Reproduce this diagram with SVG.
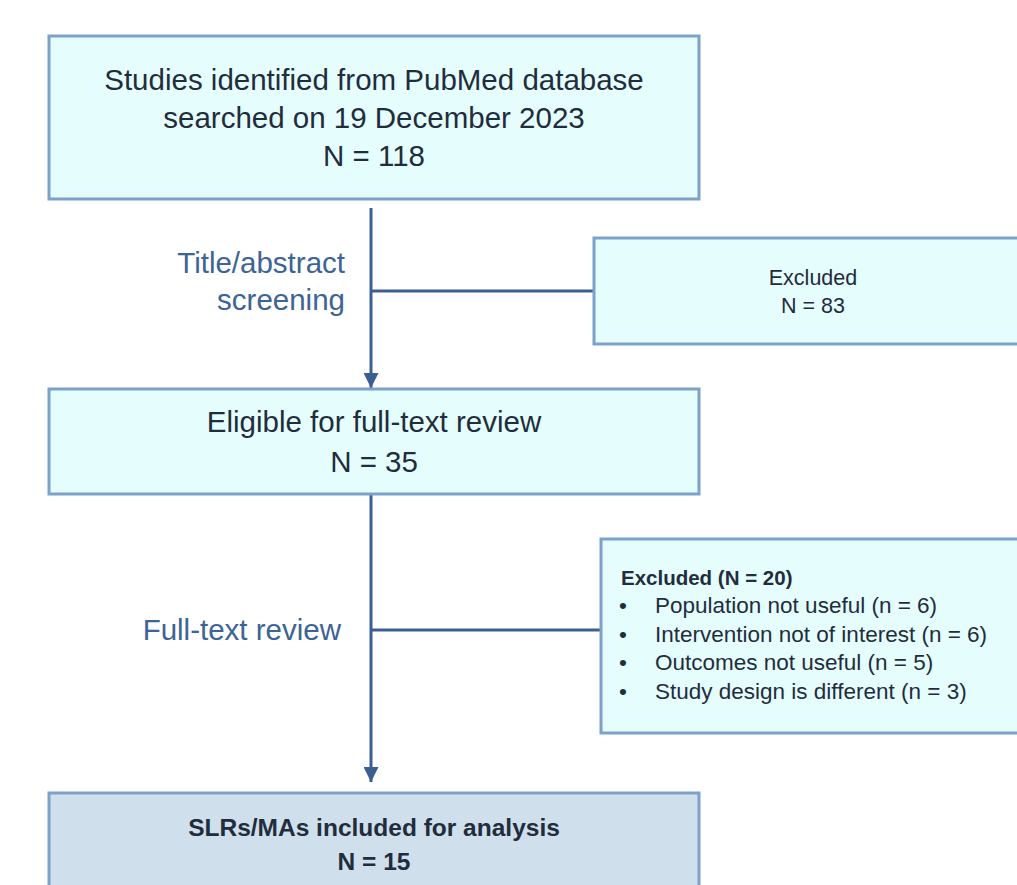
<svg xmlns="http://www.w3.org/2000/svg" width="1017" height="885" viewBox="0 0 1017 885">
<style>
.box{fill:#e6fdfd;stroke:#7ca1ca;stroke-width:3}
.final{fill:#d0dfec;stroke:#7ca1ca;stroke-width:3}
.t{font-family:"Liberation Sans",Arial,sans-serif;fill:#1f2d3d}
.big{font-size:29.5px}
.sm{font-size:22.5px}
.lab{font-family:"Liberation Sans",Arial,sans-serif;font-size:29.5px;fill:#3c6494}
.c{stroke:#3a6090;stroke-width:3;fill:none}
</style>
<defs>
<marker id="arr" viewBox="0 0 10 10" refX="10" refY="5" markerWidth="15" markerHeight="15" markerUnits="userSpaceOnUse" orient="auto">
<path d="M0,0 L10,5 L0,10 z" fill="#3a6090"/>
</marker>
</defs>
<rect width="1017" height="885" fill="#ffffff"/>
<g id="connectors">
<line class="c" x1="371" y1="208" x2="371" y2="388" marker-end="url(#arr)"/>
<line class="c" x1="371" y1="291" x2="593" y2="291"/>
<line class="c" x1="371" y1="495" x2="371" y2="782" marker-end="url(#arr)"/>
<line class="c" x1="371" y1="630" x2="600" y2="630"/>
</g>
<g id="labels">
<text class="lab" x="345" y="273" text-anchor="end">Title/abstract</text>
<text class="lab" x="345" y="310" text-anchor="end">screening</text>
<text class="lab" x="341" y="640" text-anchor="end">Full-text review</text>
</g>
<g id="identified">
<rect class="box" x="49" y="36" width="650" height="163"/>
<text class="t big" x="374" y="90" text-anchor="middle">Studies identified from PubMed database</text>
<text class="t big" x="374" y="128" text-anchor="middle">searched on 19 December 2023</text>
<text class="t big" x="374" y="166" text-anchor="middle">N = 118</text>
</g>
<g id="excluded1">
<rect class="box" x="594" y="238" width="430" height="106"/>
<text class="t" font-size="21.5" x="813" y="285" text-anchor="middle">Excluded</text>
<text class="t" font-size="21.5" x="813" y="313" text-anchor="middle">N = 83</text>
</g>
<g id="eligible">
<rect class="box" x="49" y="389" width="650" height="105"/>
<text class="t big" x="374" y="432" text-anchor="middle">Eligible for full-text review</text>
<text class="t big" x="374" y="472" text-anchor="middle">N = 35</text>
</g>
<g id="excluded2">
<rect class="box" x="601" y="539" width="430" height="194"/>
<text class="t" font-size="20.5" x="621" y="585" font-weight="bold">Excluded (N = 20)</text>
<text class="t sm" x="619" y="613">•</text><text class="t sm" x="655" y="613">Population not useful (n = 6)</text>
<text class="t sm" x="619" y="642">•</text><text class="t sm" x="655" y="642">Intervention not of interest (n = 6)</text>
<text class="t sm" x="619" y="670">•</text><text class="t sm" x="655" y="670">Outcomes not useful (n = 5)</text>
<text class="t sm" x="619" y="699">•</text><text class="t sm" x="655" y="699">Study design is different (n = 3)</text>
</g>
<g id="included">
<rect class="final" x="49" y="793" width="650" height="110"/>
<text class="t" x="374" y="836" text-anchor="middle" font-weight="bold" font-size="24.5">SLRs/MAs included for analysis</text>
<text class="t" x="374" y="870" text-anchor="middle" font-weight="bold" font-size="24.5">N = 15</text>
</g>
</svg>
